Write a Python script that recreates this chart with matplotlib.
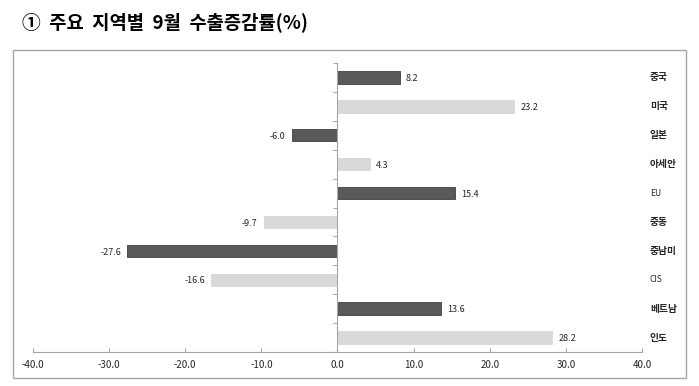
import numpy as np
import matplotlib.pyplot as plt
from matplotlib.patches import Rectangle
from matplotlib.transforms import blended_transform_factory

plt.rcParams['font.family'] = ['Noto Sans CJK KR', 'DejaVu Sans']

regions = ['중국', '미국', '일본', '아세안', 'EU', '중동', '중남미', 'CIS', '베트남', '인도']
growth = [8.2, 23.2, -6.0, 4.3, 15.4, -9.7, -27.6, -16.6, 13.6, 28.2]
xticks = [-40, -30, -20, -10, 0, 10, 20, 30, 40]

dark = '#595959'
light = '#d9d9d9'
colors = [dark if i % 2 == 0 else light for i in range(len(regions))]

fig = plt.figure(figsize=(6.99, 3.86), dpi=100)
fig.text(22/699, 1-22/386, '①  주요  지역별  9월  수출증감률(%)', fontsize=13.5,
         fontweight='bold', va='center', ha='left')
fig.patches.append(Rectangle((13/699, 1-378/386), 673/699, 328/386,
                             transform=fig.transFigure, fill=False,
                             edgecolor='#a6a6a6', linewidth=1))

ax = fig.add_axes([33/699, 1-352/386, 609/699, 289/386])
y = np.arange(len(regions))
ax.barh(y, growth, height=0.43, color=colors,
        edgecolor=[('#404040' if c == dark else light) for c in colors], linewidth=0.6)
ax.set_ylim(len(regions)-0.5, -0.5)
ax.set_xlim(-40, 40)

for yi, v in zip(y, growth):
    off = 0.8 if v > 0 else -0.8
    ax.text(v+off, yi+0.04, f'{v:.1f}', fontsize=6.5, color='#262626',
            ha='left' if v > 0 else 'right', va='center')

tr = blended_transform_factory(ax.transAxes, ax.transData)
for yi, name in zip(y, regions):
    latin = name.isascii()
    ax.text(1.013, yi, name, transform=tr, fontsize=6 if latin else 7,
            fontweight='normal' if latin else 'bold',
            color='#262626', ha='left', va='center')

for s in ['top', 'right']:
    ax.spines[s].set_visible(False)
ax.spines['left'].set_position(('data', 0))
ax.spines['left'].set_color('#a6a6a6')
ax.spines['bottom'].set_color('#a6a6a6')
ax.set_yticks(np.arange(-0.5, len(regions), 1))
ax.set_yticklabels([])
ax.tick_params(axis='y', direction='out', length=3, color='#a6a6a6')
ax.set_xticks(xticks)
ax.set_xticklabels([f'{t:.1f}' for t in xticks], fontsize=7, color='#262626')
ax.tick_params(axis='x', direction='in', length=3, color='#a6a6a6', pad=6)

fig.savefig('out.png', dpi=100)
